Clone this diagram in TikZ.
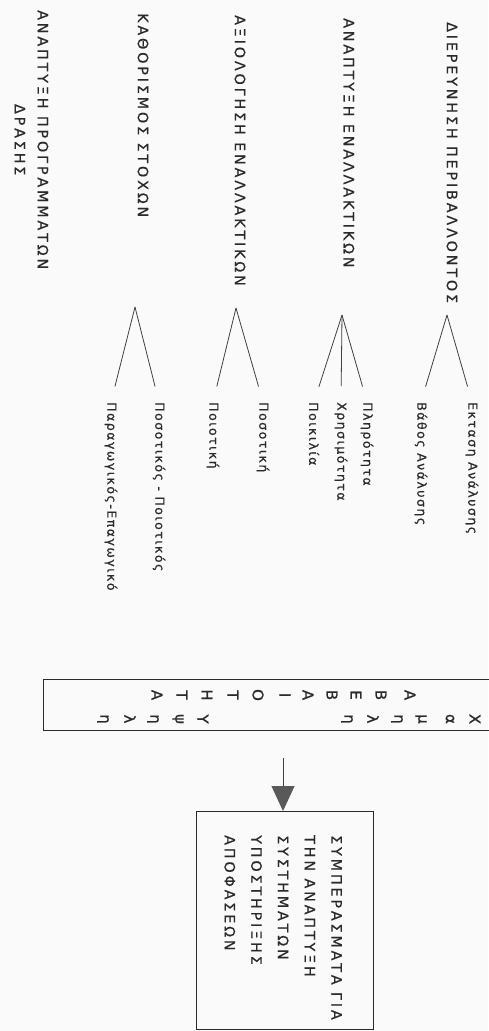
\documentclass[tikz,border=0pt]{standalone}
\usepackage{fontspec}
\setmainfont{DejaVu Sans}
\newfontfamily\capsfont[LetterSpace=20,FakeBold=0.6]{DejaVu Sans}
\newfontfamily\smallfont[LetterSpace=12,FakeBold=0.6]{DejaVu Sans}
\newfontfamily\letterfont[FakeBold=0.8]{DejaVu Sans}
\usetikzlibrary{arrows.meta}
\definecolor{ink}{HTML}{2A2A2A}
\definecolor{lineink}{HTML}{404040}
\begin{document}
\begin{tikzpicture}[x=1pt,y=-1pt,
  mainlbl/.style={rotate=-90, anchor=west, inner sep=0pt, text=ink,
    font=\capsfont\fontsize{14.3}{23}\selectfont},
  sublbl/.style={rotate=-90, anchor=west, inner sep=0pt, text=ink,
    font=\smallfont\fontsize{12.5}{14}\selectfont},
  branch/.style={draw=lineink, line width=0.8pt, shorten >=16pt},
  letter/.style={rotate=-90, inner sep=0pt, text=ink,
    font=\letterfont\fontsize{15}{15}\selectfont},
  frame/.style={draw=ink, line width=1pt, inner sep=0pt},
  arrowline/.style={draw=lineink, line width=0.9pt,
    -{Triangle[width=23pt,length=25pt,color=black!65,fill=black!65]}}
]
\useasboundingbox[fill=black!2] (0,0) rectangle (488,1031);

% main labels
\node[mainlbl] (m1) at (452,22) {ΔΙΕΡΕΥΝΗΣΗ ΠΕΡΙΒΑΛΛΟΝΤΟΣ};
\node[mainlbl] (m2) at (349,18) {ΑΝΑΠΤΥΞΗ ΕΝΑΛΛΑΚΤΙΚΩΝ};
\node[mainlbl] (m3) at (240,15) {ΑΞΙΟΛΟΓΗΣΗ ΕΝΑΛΛΑΚΤΙΚΩΝ};
\node[mainlbl] (m4) at (143,13) {ΚΑΘΟΡΙΣΜΟΣ ΣΤΟΧΩΝ};
\node[mainlbl, align=center] (m5) at (31.5,10) {ΑΝΑΠΤΥΞΗ ΠΡΟΓΡΑΜΜΑΤΩΝ\\ΔΡΑΣΗΣ};

% sub labels
\node[sublbl] (s11) at (472,402) {Εκταση Ανάλυσης};
\node[sublbl] (s12) at (421,402) {Βάθος Ανάλυσης};
\node[sublbl] (s21) at (367,402) {Πληρότητα};
\node[sublbl] (s22) at (341,402) {Χρησιμότητα};
\node[sublbl] (s23) at (314,402) {Ποικιλία};
\node[sublbl] (s31) at (263,402) {Ποσοτική};
\node[sublbl] (s32) at (213,402) {Ποιοτική};
\node[sublbl] (s41) at (159,402) {Ποσοτικός - Ποιοτικός};
\node[sublbl] (s42) at (111,402) {Παραγωγικός-Επαγωγικό};

% branch apexes
\coordinate (a1) at (447,315);
\coordinate (a2) at (342,315);
\coordinate (a3) at (236,308);
\coordinate (a4) at (135,307);

\draw[branch] (a1) -- (s11.west);
\draw[branch] (a1) -- (s12.west);
\draw[branch] (a2) -- (s21.west);
\draw[branch] (a2) -- (s22.west);
\draw[branch] (a2) -- (s23.west);
\draw[branch] (a3) -- (s31.west);
\draw[branch] (a3) -- (s32.west);
\draw[branch] (a4) -- (s41.west);
\draw[branch] (a4) -- (s42.west);

% uncertainty scale box
\node[frame, anchor=north west, minimum width=452pt, minimum height=51pt] (abox) at (43,679) {};
\foreach \ch/\xx in {Α/410,Β/381,Ε/356,Β/332,Α/308,Ι/285,Ο/258,Τ/233,Η/207,Τ/182,Α/157}
  \node[letter] at (\xx,695) {\ch};
\foreach \ch/\xx in {Χ/475,α/450,μ/421,η/397,λ/373,η/347,Υ/203,ψ/178,η/153,λ/130,η/103}
  \node[letter] at (\xx,719) {\ch};

% conclusion box
\node[frame, anchor=north west, minimum width=177pt, minimum height=218pt] (cbox) at (196,811) {};
\node[mainlbl, anchor=north west, align=left,
  font=\capsfont\fontsize{14.3}{26.7}\selectfont] (ctext) at (342,835)
  {ΣΥΜΠΕΡΑΣΜΑΤΑ ΓΙΑ\\ΤΗΝ ΑΝΑΠΤΥΞΗ\\ΣΥΣΤΗΜΑΤΩΝ\\ΥΠΟΣΤΗΡΙΞΗΣ\\ΑΠΟΦΑΣΕΩΝ};

% arrow
\coordinate (astart) at (283,758);
\draw[arrowline] (astart) -- (astart |- cbox.north);
\end{tikzpicture}
\end{document}
